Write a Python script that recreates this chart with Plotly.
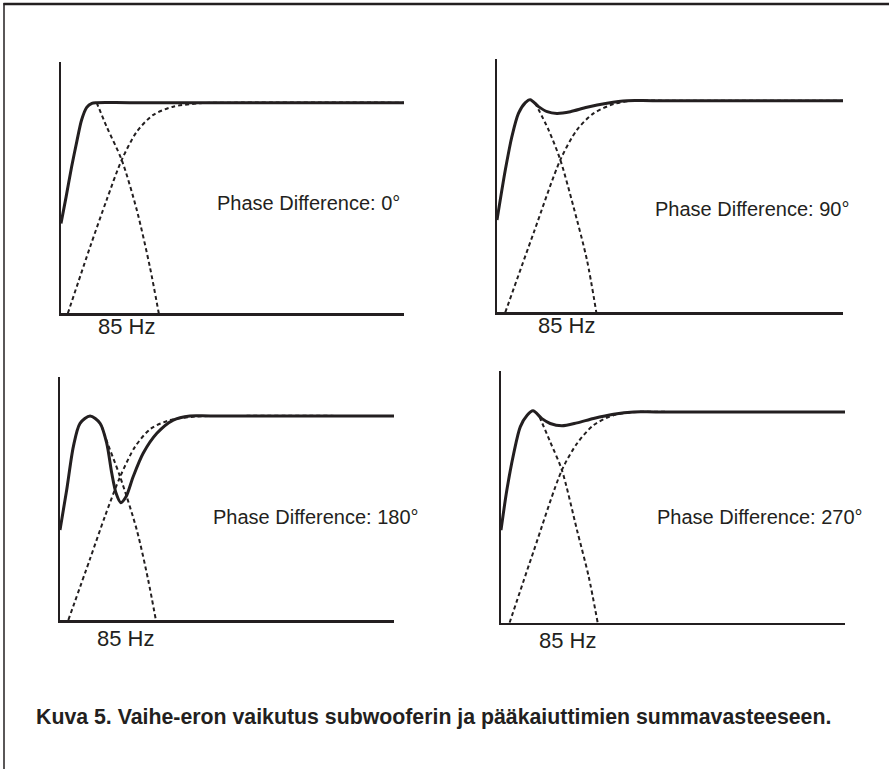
import plotly.graph_objects as go

# ---------------- data ----------------
# x: normalised frequency along each panel's axis (0 = left axis, 1 = right end)
# y: level relative to the flat pass-band (1.0 = plateau)
PANEL_TITLES = ["Phase Difference: 0°", "Phase Difference: 90°",
                "Phase Difference: 180°", "Phase Difference: 270°"]
FREQ_LABEL = "85 Hz"
CAPTION = "Kuva 5. Vaihe-eron vaikutus subwooferin ja pääkaiuttimien summavasteeseen."

# 0 degrees
sum_x_0 = [0, 0.015, 0.031, 0.046, 0.060, 0.075, 0.090, 0.104, 0.20, 1.0]
sum_y_0 = [0.426, 0.554, 0.696, 0.815, 0.918, 0.978, 0.997, 1.0, 1.0, 1.0]
low_x_0 = [0.104, 0.133, 0.177, 0.221, 0.259, 0.285]
low_y_0 = [1.0, 0.886, 0.728, 0.490, 0.221, 0.0]
high_x_0 = [0.020, 0.085, 0.133, 0.177, 0.221, 0.269, 0.327, 0.405, 0.5, 1.0]
high_y_0 = [0.0, 0.316, 0.538, 0.728, 0.862, 0.942, 0.981, 0.997, 1.0, 1.0]

# 90 degrees
sum_x_90 = [0, 0.024, 0.043, 0.062, 0.082, 0.096, 0.120, 0.145, 0.173, 0.212, 0.260, 0.318, 0.376, 0.45, 1.0]
sum_y_90 = [0.436, 0.672, 0.830, 0.940, 0.991, 1.005, 0.972, 0.948, 0.940, 0.948, 0.969, 0.988, 1.0, 1.0, 1.0]
low_x_90 = [0.110, 0.149, 0.183, 0.221, 0.260, 0.287]
low_y_90 = [0.99, 0.862, 0.720, 0.499, 0.247, 0.0]
high_x_90 = [0.024, 0.106, 0.183, 0.231, 0.279, 0.337, 0.395, 0.5, 1.0]
high_y_90 = [0.0, 0.376, 0.720, 0.862, 0.940, 0.984, 1.0, 1.0, 1.0]

# 180 degrees
sum_x_180 = [0, 0.020, 0.040, 0.060, 0.090, 0.120, 0.140, 0.155, 0.168, 0.182, 0.198, 0.219, 0.249, 0.290, 0.339, 0.389, 0.45, 1.0]
sum_y_180 = [0.441, 0.637, 0.850, 0.964, 1.0, 0.964, 0.866, 0.719, 0.621, 0.575, 0.605, 0.702, 0.817, 0.915, 0.980, 1.0, 1.0, 1.0]
low_x_180 = [0.125, 0.135, 0.180, 0.230, 0.264, 0.287]
low_y_180 = [0.95, 0.899, 0.702, 0.441, 0.196, 0.0]
high_x_180 = [0.025, 0.090, 0.135, 0.180, 0.225, 0.272, 0.330, 0.405, 0.5, 1.0]
high_y_180 = [0.0, 0.300, 0.510, 0.702, 0.850, 0.938, 0.980, 0.997, 1.0, 1.0]

# 270 degrees
sum_x_270 = [0, 0.017, 0.037, 0.056, 0.076, 0.093, 0.119, 0.143, 0.177, 0.221, 0.269, 0.327, 0.386, 0.45, 1.0]
sum_y_270 = [0.439, 0.629, 0.803, 0.929, 0.984, 1.005, 0.968, 0.945, 0.934, 0.948, 0.969, 0.989, 1.0, 1.0, 1.0]
low_x_270 = [0.112, 0.143, 0.177, 0.221, 0.255, 0.281]
low_y_270 = [0.976, 0.858, 0.724, 0.439, 0.218, 0.0]
high_x_270 = [0.025, 0.095, 0.177, 0.221, 0.269, 0.327, 0.40, 0.5, 1.0]
high_y_270 = [0.0, 0.340, 0.724, 0.850, 0.937, 0.984, 1.0, 1.0, 1.0]

PANELS = [
    (sum_x_0, sum_y_0, low_x_0, low_y_0, high_x_0, high_y_0),
    (sum_x_90, sum_y_90, low_x_90, low_y_90, high_x_90, high_y_90),
    (sum_x_180, sum_y_180, low_x_180, low_y_180, high_x_180, high_y_180),
    (sum_x_270, sum_y_270, low_x_270, low_y_270, high_x_270, high_y_270),
]

# ---------------- layout geometry (pixels) ----------------
W, H = 889, 769
INK = "#231f20"
FONT = "Liberation Sans, Arial, Helvetica, sans-serif"

# (left, right, top, bottom) of each panel's axes, in pixels
BOXES = [(61, 404, 62, 313.3), (497, 843, 59, 312.3),
         (60, 394, 377, 620), (501, 845, 371, 622.7)]
# y-range top (plateau = 1)
YTOPS = [1.193, 1.197, 1.191, 1.194]
FREQ_POS = [(126.7, 326.7), (566.7, 325), (125.3, 638.3), (567, 640)]
TITLE_POS = [(215, 203.3), (652.7, 209.3), (210.7, 517.3), (655, 516.7)]


def px(x):
    return x / W


def py(y):
    return 1 - y / H


fig = go.Figure()
layout_axes = {}
annotations = []
for i, (sx, sy, lx, ly, hx, hy) in enumerate(PANELS):
    n = "" if i == 0 else str(i + 1)
    xa, ya = "x" + n, "y" + n
    dotted = dict(color=INK, width=2, dash="4px,3px", shape="spline", smoothing=0.8)
    fig.add_trace(go.Scatter(x=lx, y=ly, mode="lines", line=dotted,
                             xaxis=xa, yaxis=ya, showlegend=False, hoverinfo="skip"))
    fig.add_trace(go.Scatter(x=hx, y=hy, mode="lines", line=dotted,
                             xaxis=xa, yaxis=ya, showlegend=False, hoverinfo="skip"))
    fig.add_trace(go.Scatter(x=sx, y=sy, mode="lines",
                             line=dict(color=INK, width=3, shape="spline", smoothing=0.8),
                             xaxis=xa, yaxis=ya, showlegend=False, hoverinfo="skip"))
    l, r, t, b = BOXES[i]
    axstyle = dict(showgrid=False, zeroline=False, showticklabels=False, ticks="",
                   showline=True, linecolor=INK, linewidth=2.5, fixedrange=True)
    layout_axes["xaxis" + n] = dict(domain=[px(l), px(r)], range=[0, 1],
                                   anchor=ya, **axstyle)
    layout_axes["yaxis" + n] = dict(domain=[py(b), py(t)], range=[0, YTOPS[i]],
                                   anchor=xa, **axstyle)
    fx, fy = FREQ_POS[i]
    annotations.append(dict(text=FREQ_LABEL, x=px(fx), y=py(fy), xref="paper", yref="paper",
                            xanchor="center", yanchor="middle", showarrow=False,
                            font=dict(family=FONT, size=22, color=INK)))
    tx, ty = TITLE_POS[i]
    annotations.append(dict(text=PANEL_TITLES[i], x=px(tx), y=py(ty), xref="paper", yref="paper",
                            xanchor="left", yanchor="middle", showarrow=False,
                            font=dict(family=FONT, size=20, color=INK)))

annotations.append(dict(text="<b>" + CAPTION + "</b>", x=px(34), y=py(716.7),
                        xref="paper", yref="paper", xanchor="left", yanchor="middle",
                        showarrow=False, font=dict(family=FONT, size=21.3, color=INK)))

shapes = [
    dict(type="line", xref="paper", yref="paper", x0=px(3.5), x1=px(889), y0=py(4), y1=py(4),
         line=dict(color=INK, width=2.5)),
    dict(type="line", xref="paper", yref="paper", x0=px(4), x1=px(4), y0=py(3), y1=py(769),
         line=dict(color=INK, width=1.5)),
]

fig.update_layout(width=W, height=H, autosize=False,
                  margin=dict(l=0, r=0, t=0, b=0, pad=0),
                  paper_bgcolor="white", plot_bgcolor="white",
                  annotations=annotations, shapes=shapes, **layout_axes)

fig.write_html("out.html", config={"displayModeBar": False, "staticPlot": True},
               post_script="document.documentElement.style.margin='0';"
                           "document.body.style.margin='0';"
                           "document.documentElement.style.overflow='hidden';"
                           "document.body.style.overflow='hidden';")
